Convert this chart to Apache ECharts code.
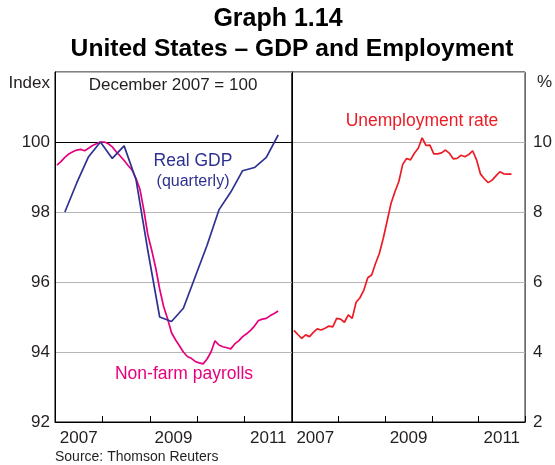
<!DOCTYPE html>
<html>
<head>
<meta charset="utf-8">
<script src="https://cdn.jsdelivr.net/npm/echarts@6/dist/echarts.min.js"></script>
<style>
html,body{margin:0;padding:0;background:#fff;}
#c{width:555px;height:465px;}
</style>
</head>
<body>
<div id="c"></div>
<script>
// ---- Data ----
// Monthly series start January 2007
const firstYear = 2007;
const payrolls = [
  99.34, 99.44, 99.56, 99.66, 99.72, 99.77, 99.79, 99.75, 99.82, 99.90, 99.95, 100.00,
  100.00, 99.95, 99.86, 99.72, 99.60, 99.47, 99.33, 99.20, 98.96, 98.65, 98.05, 97.35,
  96.90, 96.40, 95.80, 95.30, 94.95, 94.55, 94.35, 94.18, 94.00, 93.87, 93.82, 93.73,
  93.69, 93.66, 93.80, 94.00, 94.32, 94.20, 94.15, 94.12, 94.09, 94.23, 94.32, 94.44,
  94.52, 94.62, 94.74, 94.90, 94.94, 94.96, 95.04, 95.10, 95.17
];
const unemployment = [
  4.62, 4.50, 4.39, 4.49, 4.44, 4.56, 4.66, 4.63, 4.68, 4.74, 4.72, 4.96,
  4.94, 4.85, 5.06, 4.96, 5.42, 5.55, 5.77, 6.12, 6.20, 6.53, 6.82, 7.25,
  7.75, 8.25, 8.58, 8.87, 9.36, 9.53, 9.49, 9.68, 9.82, 10.12, 9.90, 9.91,
  9.66, 9.66, 9.69, 9.77, 9.68, 9.52, 9.53, 9.62, 9.58, 9.64, 9.75, 9.49,
  9.09, 8.95, 8.84, 8.91, 9.03, 9.15, 9.09, 9.08, 9.08
];
// Quarterly series start 2007 Q1 (plotted at the last month of each quarter)
const realGDP = [
  98.00, 98.83, 99.58, 100.00,
  99.53, 99.89, 98.93, 96.90,
  95.00, 94.87, 95.25, 96.15,
  97.05, 98.06, 98.57, 99.18,
  99.27, 99.56, 100.20
];
const yearLabels = ['2007', '2008', '2009', '2010', '2011'];
const labelledYears = ['2007', '2009', '2011'];

// ---- helpers: position on a months-since-Jan-2007 scale ----
const monthly = arr => arr.map((v, i) => [i + 0.5, v]);
const quarterly = arr => arr.map((v, i) => [i * 3 + 2.5, v]);
const yearLabelPositions = labelledYears.map(y => (Number(y) - firstYear) * 12 + 6);
const yearFmt = v => {
  const idx = Math.round((v - 6) / 12);
  return yearLabels[idx] || '';
};

const font = "'Liberation Sans', Arial, Helvetica, sans-serif";
const textCol = '#231f20';
const gdpCol = '#2e3192';
const payCol = '#e6007e';
const unCol = '#ed1c24';
const gridCol = '#b5b5b5';

function xAxes(gi) {
  return {
    gridIndex: gi, type: 'value', min: 0, max: 60, interval: 12,
    axisLine: {show: true, lineStyle: {color: '#000', width: 1}},
    axisTick: {show: true, inside: true, length: 6, lineStyle: {color: '#000', width: 1}},
    axisLabel: {
      show: true, customValues: yearLabelPositions, formatter: yearFmt,
      fontSize: 17, fontFamily: font, color: textCol, margin: 8
    },
    splitLine: {show: false}
  };
}

const chart = echarts.init(document.getElementById('c'), null, {renderer: 'canvas'});
const option = {
  animation: false,
  backgroundColor: '#fff',
  textStyle: {fontFamily: font},
  grid: [
    {left: 55, top: 72, width: 237, height: 350, show: true, borderColor: '#000', borderWidth: 1, containLabel: false},
    {left: 292, top: 72, width: 237, height: 350, show: true, borderColor: '#000', borderWidth: 1, containLabel: false}
  ],
  xAxis: [xAxes(0), xAxes(1)],
  yAxis: [
    {
      gridIndex: 0, type: 'value', min: 92, max: 102, interval: 2, position: 'left',
      axisLine: {show: true, lineStyle: {color: '#000'}},
      axisTick: {show: false},
      axisLabel: {formatter: v => (v === 102 ? '' : String(v)), fontSize: 17, fontFamily: font, color: textCol, margin: 5},
      splitLine: {show: true, lineStyle: {color: gridCol, width: 1}}
    },
    {
      gridIndex: 1, type: 'value', min: 2, max: 12, interval: 2, position: 'right',
      axisLine: {show: true, lineStyle: {color: '#000'}},
      axisTick: {show: false},
      axisLabel: {formatter: v => (v === 12 ? '' : String(v)), fontSize: 17, fontFamily: font, color: textCol, margin: 8},
      splitLine: {show: true, lineStyle: {color: gridCol, width: 1}}
    }
  ],
  series: [
    {
      name: 'Non-farm payrolls', type: 'line', xAxisIndex: 0, yAxisIndex: 0,
      data: monthly(payrolls), symbol: 'none', smooth: false,
      lineStyle: {color: payCol, width: 1.7}, z: 3,
      markLine: {
        silent: true, symbol: 'none', label: {show: false},
        lineStyle: {color: '#000', width: 1, type: 'solid'},
        data: [{yAxis: 100}], z: 2
      }
    },
    {
      name: 'Real GDP', type: 'line', xAxisIndex: 0, yAxisIndex: 0,
      data: quarterly(realGDP), symbol: 'none',
      lineStyle: {color: gdpCol, width: 1.7}, z: 4
    },
    {
      name: 'Unemployment rate', type: 'line', xAxisIndex: 1, yAxisIndex: 1,
      data: monthly(unemployment), symbol: 'none',
      lineStyle: {color: unCol, width: 1.7}, z: 3
    }
  ],
  graphic: [
    {type: 'text', x: 278, y: 19, style: {text: 'Graph 1.14', font: 'bold 25px ' + font, fill: '#000', textAlign: 'center', textVerticalAlign: 'middle', align: 'center', verticalAlign: 'middle'}},
    {type: 'text', x: 292, y: 49, style: {text: 'United States – GDP and Employment', font: 'bold 24.6px ' + font, fill: '#000', textAlign: 'center', textVerticalAlign: 'middle', align: 'center', verticalAlign: 'middle'}},
    {type: 'text', x: 50, y: 83, style: {text: 'Index', font: '17px ' + font, fill: textCol, textAlign: 'right', textVerticalAlign: 'middle', align: 'right', verticalAlign: 'middle'}},
    {type: 'text', x: 537, y: 82, style: {text: '%', font: '17px ' + font, fill: textCol, textAlign: 'left', textVerticalAlign: 'middle', align: 'left', verticalAlign: 'middle'}},
    {type: 'text', x: 173, y: 85, style: {text: 'December 2007 = 100', font: '17px ' + font, fill: textCol, textAlign: 'center', textVerticalAlign: 'middle', align: 'center', verticalAlign: 'middle'}},
    {type: 'text', x: 193, y: 161, style: {text: 'Real GDP', font: '17.5px ' + font, fill: gdpCol, textAlign: 'center', textVerticalAlign: 'middle', align: 'center', verticalAlign: 'middle'}},
    {type: 'text', x: 193, y: 182, style: {text: '(quarterly)', font: '16px ' + font, fill: gdpCol, textAlign: 'center', textVerticalAlign: 'middle', align: 'center', verticalAlign: 'middle'}},
    {type: 'text', x: 184, y: 374, style: {text: 'Non-farm payrolls', font: '17.5px ' + font, fill: payCol, textAlign: 'center', textVerticalAlign: 'middle', align: 'center', verticalAlign: 'middle'}},
    {type: 'text', x: 422, y: 121, style: {text: 'Unemployment rate', font: '17.5px ' + font, fill: unCol, textAlign: 'center', textVerticalAlign: 'middle', align: 'center', verticalAlign: 'middle'}},
    {type: 'text', x: 55, y: 457, style: {text: 'Source: Thomson Reuters', font: '14px ' + font, fill: textCol, textAlign: 'left', textVerticalAlign: 'middle', align: 'left', verticalAlign: 'middle'}}
  ]
};
chart.setOption(option);
</script>
</body>
</html>
